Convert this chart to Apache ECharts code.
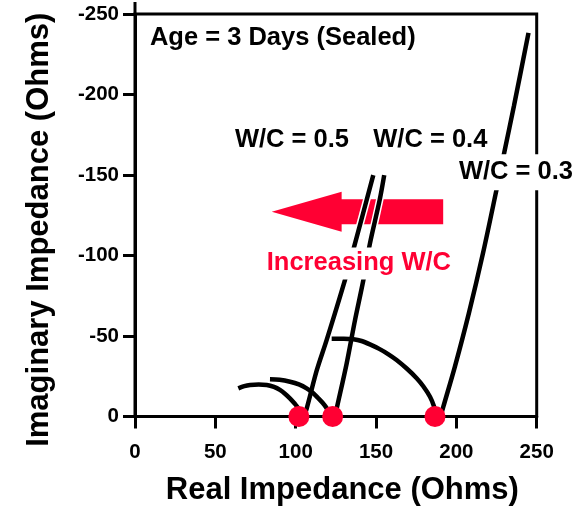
<!DOCTYPE html>
<html><head><meta charset="utf-8">
<script src="https://cdn.jsdelivr.net/npm/echarts@6/dist/echarts.min.js"></script>
<style>html,body{margin:0;padding:0;background:#fff}#c{width:577px;height:507px}</style>
</head><body><div id="c"></div>
<script>
const FONT = "'Liberation Sans', Arial, sans-serif";
const RED = '#FF0033';

// Axis ranges / ticks
const xTicks = [0, 50, 100, 150, 200, 250];
const yTicks = [-250, -200, -150, -100, -50, 0];

// Texts
const xTitle = 'Real Impedance (Ohms)';
const yTitle = 'Imaginary Impedance (Ohms)';
const ageText = 'Age = 3 Days (Sealed)';
const arrowText = 'Increasing W/C';
const seriesNames = ['W/C = 0.5', 'W/C = 0.4', 'W/C = 0.3'];

// Nyquist curves: [real, imaginary]
const wc05Arc = [[64.3,-17.5],[68,-18.9],[71.6,-19.6],[77,-19.8],[82.0,-19.6],[86.5,-18.4],[90.2,-16.5],[93.5,-14.0],[96.4,-11.3],[99.2,-8.2],[101.6,-5.1],[102.6,-2]];
const wc05Tail = [[105,0],[106.8,-4.8],[113.1,-28.6],[119.3,-47.6],[130.7,-84.9],[136.9,-107.4],[148.3,-149.9]];
const wc04Arc = [[84.0,-23.1],[90,-22.8],[96.5,-21.6],[102,-19.9],[106.8,-17.5],[110.8,-14.6],[114.1,-11.3],[117,-8.2],[119.3,-5.1],[120.8,-2]];
const wc04Tail = [[124.5,0],[125.5,-4.8],[131.7,-32.8],[136.9,-59.7],[142.1,-84.6],[146.2,-107.4],[152.3,-134.6],[155.1,-149.9]];
const wc03Arc = [[122.4,-48.3],[130,-48.3],[136,-48.0],[141,-46.9],[146.2,-44.8],[152,-42.0],[157.5,-38.8],[162.8,-35.1],[169.1,-29.8],[175.3,-23.8],[179.4,-18.8],[183.6,-12.3],[186,-6.5],[187,-2]];
const wc03Tail = [[190.5,-1],[191.9,-6.1],[199.1,-31.0],[207.8,-64.2],[216.6,-101.5],[225.0,-140.9],[230.2,-165.8],[235.8,-192.7],[244.9,-238.3]];

// High-frequency intercepts (red dots)
const interceptX = [102, 123, 186.7];
const interceptY = [0, 0, 0];

// Annotation anchors (data coordinates)
const ageAnchor = [9.3, -235.4];
const labelAnchors = [[62.2, -172.0], [148.3, -172.0], [199.1, -151.7]];
const arrowTextAnchor = [82.0, -95.1];
const arrowGeom = { tipX: 85.1, baseX: 128.6, endX: 191.8, cy: -127.2, headHalf: 12.4, bodyHalf: 7.8 };

const chart = echarts.init(document.getElementById('c'), null, { renderer: 'canvas' });

function axisCommon() {
  return {
    type: 'value',
    axisLine: { show: true, onZero: false, lineStyle: { color: '#000', width: 3 } },
    axisTick: { show: true, length: 12, lineStyle: { color: '#000', width: 3 } },
    splitLine: { show: false },
    nameLocation: 'middle'
  };
}

function lineSeries(name, data) {
  return { name, type: 'line', data, showSymbol: false, smooth: 0.3, z: 3, silent: true,
    lineStyle: { color: '#000', width: 4.5, cap: 'butt' } };
}
function haloSeries(data) {
  return { type: 'line', data: data.filter(p => p[1] <= -105), showSymbol: false, smooth: 0.3, z: 2, silent: true,
    lineStyle: { color: '#fff', width: 7.5 } };
}

const option = {
  animation: false,
  backgroundColor: '#fff',
  grid: { left: 135, top: 14, right: 40.3, bottom: 90.5, outerBoundsMode: 'none', containLabel: false,
    show: true, borderColor: '#000', borderWidth: 3, backgroundColor: 'transparent' },
  xAxis: Object.assign(axisCommon(), {
    min: xTicks[0], max: xTicks[xTicks.length - 1], interval: 50,
    axisLabel: { fontSize: 20.5, fontWeight: 'bold', color: '#000', fontFamily: FONT, margin: 25 },
    name: xTitle, nameGap: 58,
    nameTextStyle: { fontSize: 31, fontWeight: 'bold', color: '#000', fontFamily: FONT, padding: [0, 0, 0, 13] }
  }),
  yAxis: Object.assign(axisCommon(), {
    min: yTicks[0], max: yTicks[yTicks.length - 1], interval: 50, inverse: true,
    axisLabel: { fontSize: 20.5, fontWeight: 'bold', color: '#000', fontFamily: FONT, margin: 16, padding: [5, 0, 0, 0] },
    name: yTitle, nameGap: 80,
    nameTextStyle: { fontSize: 31, fontWeight: 'bold', color: '#000', fontFamily: FONT, padding: [0, 29, 0, 0] }
  }),
  series: [
    haloSeries(wc05Tail),
    haloSeries(wc04Tail),
    lineSeries(seriesNames[0], wc05Arc),
    lineSeries(seriesNames[0], wc05Tail),
    lineSeries(seriesNames[1], wc04Arc),
    lineSeries(seriesNames[1], wc04Tail),
    lineSeries(seriesNames[2], wc03Arc),
    lineSeries(seriesNames[2], wc03Tail),
    {
      type: 'scatter', clip: false, z: 5, silent: true,
      data: interceptX.map((x, i) => [x, interceptY[i]]),
      symbol: 'circle', symbolSize: 21,
      itemStyle: { color: RED, opacity: 1 }
    }
  ]
};
chart.setOption(option);

const px = p => chart.convertToPixel({ gridIndex: 0 }, p);
const g = arrowGeom;
const arrowPts = [
  [g.tipX, g.cy], [g.baseX, g.cy - g.headHalf], [g.baseX, g.cy - g.bodyHalf],
  [g.endX, g.cy - g.bodyHalf], [g.endX, g.cy + g.bodyHalf], [g.baseX, g.cy + g.bodyHalf],
  [g.baseX, g.cy + g.headHalf]
].map(px);

const textStyleBase = { fontFamily: FONT, fontWeight: 'bold', fill: '#000', verticalAlign: 'middle', align: 'left' };
function txt(text, anchor, extra) {
  const p = px(anchor);
  return { type: 'text', x: p[0], y: p[1], z: 10, silent: true, style: Object.assign({ text }, textStyleBase, extra) };
}
const topLeft = px([0, -250]);

chart.setOption({
  graphic: [
    { type: 'polygon', z: 1, silent: true, shape: { points: arrowPts }, style: { fill: RED } },
    { type: 'line', z: 3, silent: true, shape: { x1: topLeft[0], y1: topLeft[1], x2: topLeft[0], y2: topLeft[1] - 12 }, style: { stroke: '#000', lineWidth: 3 } },
    txt(ageText, ageAnchor, { fontSize: 25.5 }),
    txt(seriesNames[0], labelAnchors[0], { fontSize: 25.5 }),
    txt(seriesNames[1], labelAnchors[1], { fontSize: 25.5 }),
    txt(seriesNames[2], labelAnchors[2], { fontSize: 25.5, backgroundColor: '#fff', padding: [5, 4, 5, 4] }),
    txt(arrowText, arrowTextAnchor, { fontSize: 25.5, fill: RED, backgroundColor: '#fff', padding: [3, 0, 3, 0] })
  ]
});
</script>
</body></html>
